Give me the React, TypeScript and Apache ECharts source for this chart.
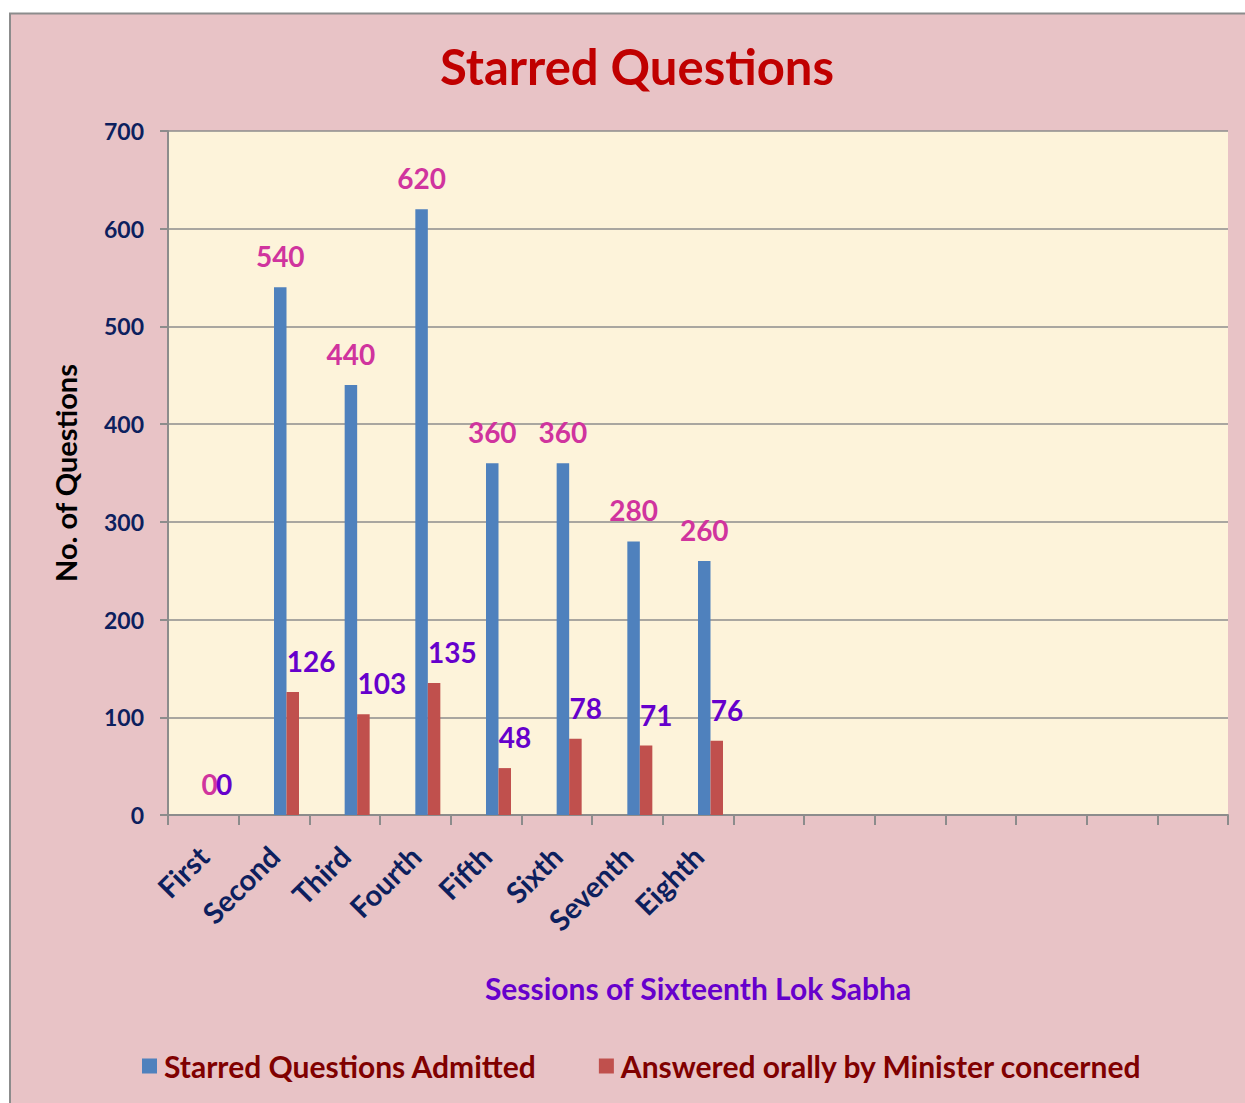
import React, { useEffect, useRef } from "react";
import * as echarts from "echarts";

const categories = [
  "First", "Second", "Third", "Fourth", "Fifth", "Sixth", "Seventh", "Eighth",
  "", "", "", "", "", "", "",
];
const admitted = [0, 540, 440, 620, 360, 360, 280, 260, null, null, null, null, null, null, null];
const answered = [0, 126, 103, 135, 48, 78, 71, 76, null, null, null, null, null, null, null];
const placeholder = categories.map(() => null);
const yTicks = { min: 0, max: 700, interval: 100 };

const FONT = "Lato";

export default function App() {
  const ref = useRef<HTMLDivElement>(null);
  useEffect(() => {
    if (!ref.current) return;
    const chart = echarts.init(ref.current, null, { renderer: "svg" });
    chart.setOption({
      animation: false,
      backgroundColor: "#ffffff",
      textStyle: { fontFamily: FONT },
      graphic: [
        {
          type: "rect",
          z: -10,
          silent: true,
          shape: { x: 10, y: 13.5, width: 1250, height: 1100 },
          style: { fill: "#e8c3c6", stroke: "#8c8c8c", lineWidth: 2 },
        },
      ],
      title: {
        text: "Starred Questions",
        left: 632,
        top: 36,
        textAlign: "center",
        textStyle: { fontFamily: FONT, fontSize: 49, fontWeight: "bold", color: "#c00000" },
      },
      legend: {
        data: ["Starred Questions Admitted", "Answered orally by Minister concerned"],
        left: 137,
        top: 1046,
        icon: "rect",
        itemWidth: 15,
        itemHeight: 15,
        itemGap: 62,
        textStyle: { fontFamily: FONT, fontSize: 30, fontWeight: "bold", color: "#800000", padding: [0, 0, 0, 2] },
      },
      grid: {
        left: 168,
        top: 131,
        right: 17,
        bottom: 288,
        show: true,
        backgroundColor: "#fdf3da",
        borderWidth: 0,
      },
      xAxis: {
        type: "category",
        data: categories,
        name: "Sessions of Sixteenth Lok Sabha",
        nameLocation: "middle",
        nameGap: 158,
        nameTextStyle: { fontFamily: FONT, fontSize: 30, fontWeight: "bold", color: "#6600cc" },
        axisLine: { lineStyle: { color: "#8c8c8c", width: 2 } },
        axisTick: { show: true, length: 10, lineStyle: { color: "#8c8c8c", width: 2 } },
        axisLabel: {
          rotate: 45,
          margin: 36,
          interval: 0,
          fontFamily: FONT,
          fontSize: 29,
          fontWeight: "bold",
          color: "#0d1f5e",
        },
      },
      yAxis: {
        type: "value",
        min: yTicks.min,
        max: yTicks.max,
        interval: yTicks.interval,
        name: "No. of Questions",
        nameLocation: "middle",
        nameGap: 88,
        nameRotate: 90,
        nameTextStyle: { fontFamily: FONT, fontSize: 29, fontWeight: "bold", color: "#000000" },
        axisLine: { show: true, lineStyle: { color: "#8c8c8c", width: 2 } },
        axisTick: { show: true, length: 8, lineStyle: { color: "#8c8c8c", width: 2 } },
        splitLine: { lineStyle: { color: "#8c8c8c", width: 1.5 } },
        axisLabel: {
          margin: 24,
          fontFamily: FONT,
          fontSize: 23,
          fontWeight: "bold",
          color: "#0d1f5e",
        },
      },
      series: [
        { name: "_p1", type: "bar", data: placeholder, barWidth: 12.5, barGap: "0%", silent: true },
        { name: "_p2", type: "bar", data: placeholder, barWidth: 12.5, barGap: "0%", silent: true },
        {
          name: "Starred Questions Admitted",
          type: "bar",
          data: admitted,
          barWidth: 12.5,
          barGap: "0%",
          itemStyle: { color: "#4f81bd" },
          label: {
            show: true,
            position: "top",
            distance: 17,
            fontFamily: FONT,
            fontSize: 28,
            fontWeight: "bold",
            color: "#d0349e",
          },
        },
        {
          name: "Answered orally by Minister concerned",
          type: "bar",
          data: answered,
          barWidth: 12.5,
          barGap: "0%",
          itemStyle: { color: "#c0504d" },
          label: {
            show: true,
            position: "top",
            distance: 17,
            align: "left",
            offset: [-6, 0],
            fontFamily: FONT,
            fontSize: 28,
            fontWeight: "bold",
            color: "#6600cc",
          },
        },
      ],
    });
    return () => chart.dispose();
  }, []);
  return (
    <div
      ref={ref}
      style={{ position: "absolute", left: 0, top: 0, width: 1245, height: 1103 }}
    />
  );
}
